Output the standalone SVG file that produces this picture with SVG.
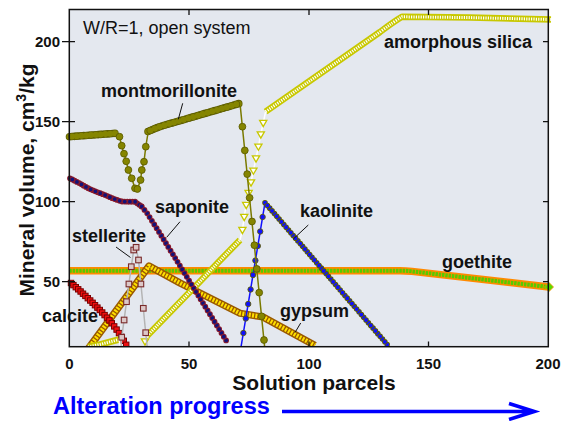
<svg xmlns="http://www.w3.org/2000/svg" width="564" height="421" viewBox="0 0 564 421">
<style>
text{font-family:"Liberation Sans",Arial,sans-serif;fill:#111}
.lbl{font-weight:bold;font-size:18px}
.tk{font-weight:bold;font-size:15px}
.ax{font-weight:bold;font-size:21px}
.ldr{stroke:#111;stroke-width:1;fill:none}
.tick{stroke:#111;stroke-width:1.3}
.dot{fill:none;stroke-linecap:round}
.sO{stroke:#8b1a2a;stroke-width:5.8}
.sF{stroke:#12127a;stroke-width:3.8}
.mO{stroke:#5e5e00;stroke-width:7.6}
.mF{stroke:#858500;stroke-width:6}
.kO{stroke:#5e5e00;stroke-width:5.6}
.kF{stroke:#1010ff;stroke-width:3.8}
.mC{fill:#858500;stroke:#5e5e00;stroke-width:0.9}
.kC{fill:#1010ff;stroke:#5e5e00;stroke-width:0.9}
.siO{fill:none;stroke:#c8c800;stroke-width:6.5;stroke-linejoin:round}
.siI{fill:none;stroke:#fff;stroke-width:3;stroke-dasharray:1.2 1.2;stroke-linejoin:round}
.gyO{fill:none;stroke:#9a5a00;stroke-width:7.2;stroke-linejoin:round}
.gyI{fill:none;stroke:#ffe000;stroke-width:4.4;stroke-dasharray:2 1.3;stroke-linejoin:round}
.tri{fill:#fff;stroke:#c8c800;stroke-width:1.3}
.st{fill:#dcc8c8;stroke:#7a2a2a;stroke-width:1.1}
</style>
<defs>
<clipPath id="plot"><rect x="62" y="5" width="494" height="341.7"/></clipPath>
<marker id="mSq" markerWidth="8" markerHeight="8" refX="4" refY="4" markerUnits="userSpaceOnUse">
<rect x="1.3" y="1.3" width="5.4" height="5.4" fill="#ee1010" stroke="#7a0000" stroke-width="1"/>
</marker>
<polygon id="tr" points="-3.6,-2.6 3.6,-2.6 0,3.6"/>
<rect id="sq" x="-2.8" y="-2.8" width="5.6" height="5.6"/>
<path id="sapA" d="M70,178.3 L80,183.5 L88.3,188.3 L97,192 L105,195 L113,198.5 L121.7,201.5 L128,201.7 L135,201.7 L141.7,206.5"/>
<path id="sapB" d="M141.7,206.5 L147,213 L153,222.5 L160,233.5 L228,343.5"/>
<path id="monA" d="M69.5,136.7 L117,133.2"/>
<path id="monB" d="M148,131.5 L160,126.5 L178,121.3 L240,103.3"/>
<path id="kaoA" d="M265,202.7 L388,345.5"/>
</defs>

<g id="frame-bg">
<rect x="69.3" y="9.5" width="479" height="337.2" fill="#e4e8ef"/>
</g>

<g clip-path="url(#plot)">
<g id="goethite">
<path d="M69.3,270.7 L400,270.7 Q406,270.7 412,271.4 L549,287" fill="none" stroke="#ff8a00" stroke-width="7.5"/>
<path d="M69.3,270.7 L400,270.7 Q406,270.7 412,271.4 L549,287" fill="none" stroke="#55cc00" stroke-width="4" stroke-dasharray="2.5 0.8"/>
<polygon points="549,282.5 553.5,287 549,291.5 544.5,287" fill="#55dd00" stroke="#ff8a00" stroke-width="0.8"/>
</g>

<g id="gypsum">
<path class="gyO" d="M88,349 L149,266 L180,283 L240,313.3 L263,317 L315,345.5"/>
<path class="gyI" d="M88,349 L149,266 L180,283 L240,313.3 L263,317 L315,345.5"/>
</g>

<g id="calcite">
<polyline fill="none" stroke="none" marker-start="url(#mSq)" marker-mid="url(#mSq)" marker-end="url(#mSq)" points="71,283 73.4,285.1 75.8,287.2 78.2,289.3 80.6,291.5 83,293.7 85.4,295.9 87.8,298.2 90.2,300.5 92.6,302.8 95,305.2 97.4,307.6 99.8,310 102.2,312.5 104.6,315.1 107,317.7 109.4,320.4 111.8,323.3 114.2,326.4 116.6,329.6 119,333.1 121.4,336.8 123.8,340.8 126.2,344.8"/>
</g>

<g id="amorphous-silica">
<path class="siO" d="M88,347 L100,344.5 L119,339.5"/>
<path class="siI" d="M88,347 L100,344.5 L119,339.5"/>
<path d="M119,339.5 L121,350 M145,341.5 L147,336" stroke="#fff" stroke-width="1.4" fill="none"/>
<path class="siO" d="M147,336 L180,302 L200,281.5 L220,260.5 L240,240"/>
<path class="siI" d="M147,336 L180,302 L200,281.5 L220,260.5 L240,240"/>
<polyline points="240,240 242.4,230 244.2,217 246.2,205 248.6,193 251,182.5 253.4,170.7 256,158.5 258.4,146.7 260.8,134.5 263.2,123 265.6,111.7" fill="none" stroke="#fff" stroke-width="1.5"/>
<g class="tri">
<use href="#tr" x="145" y="341.5"/>
<use href="#tr" x="242.4" y="230"/>
<use href="#tr" x="244.2" y="217"/>
<use href="#tr" x="246.2" y="205"/>
<use href="#tr" x="248.6" y="193"/>
<use href="#tr" x="251" y="182.5"/>
<use href="#tr" x="253.4" y="170.7"/>
<use href="#tr" x="256" y="158.5"/>
<use href="#tr" x="258.4" y="146.7"/>
<use href="#tr" x="260.8" y="134.5"/>
<use href="#tr" x="263.2" y="123"/>
</g>
<path class="siO" d="M265.6,111.7 L380,32 Q394,21.5 402,16.8 L470,17.6 L551,19.5"/>
<path class="siI" d="M265.6,111.7 L380,32 Q394,21.5 402,16.8 L470,17.6 L551,19.5"/>
</g>

<g id="saponite">
<use href="#sapA" class="dot sO" stroke-dasharray="0 5.2"/>
<use href="#sapA" class="dot sF" stroke-dasharray="0 5.2"/>
<use href="#sapA" class="dot sO" stroke-dasharray="0 5.2" stroke-dashoffset="2.6"/>
<use href="#sapA" class="dot sF" stroke-dasharray="0 5.2" stroke-dashoffset="2.6"/>
<use href="#sapB" class="dot sO" stroke-dasharray="0 8.8"/>
<use href="#sapB" class="dot sF" stroke-dasharray="0 8.8"/>
<use href="#sapB" class="dot sO" stroke-dasharray="0 8.8" stroke-dashoffset="4.4"/>
<use href="#sapB" class="dot sF" stroke-dasharray="0 8.8" stroke-dashoffset="4.4"/>
</g>

<g id="kaolinite">
<path d="M241,347 L265,202.7" stroke="#1010ff" stroke-width="1.5" fill="none"/>
<g class="kC">
<circle cx="243.4" cy="333" r="2.7"/>
<circle cx="245.8" cy="318.5" r="2.7"/>
<circle cx="248.2" cy="304" r="2.7"/>
<circle cx="250.6" cy="289.5" r="2.7"/>
<circle cx="253" cy="275" r="2.7"/>
<circle cx="255.4" cy="260.5" r="2.7"/>
<circle cx="257.8" cy="246" r="2.7"/>
<circle cx="260.2" cy="231.5" r="2.7"/>
<circle cx="262.6" cy="217" r="2.7"/>
</g>
<use href="#kaoA" class="dot kO" stroke-dasharray="0 7.2"/>
<use href="#kaoA" class="dot kF" stroke-dasharray="0 7.2"/>
<use href="#kaoA" class="dot kO" stroke-dasharray="0 7.2" stroke-dashoffset="3.6"/>
<use href="#kaoA" class="dot kF" stroke-dasharray="0 7.2" stroke-dashoffset="3.6"/>
</g>

<g id="montmorillonite">
<path d="M117,133.2 L119.5,136.7 L121.7,145.7 L124,153.7 L126.2,161.3 L128.4,170 L131.7,178.3 L135,188.3 L137.4,189 L140.6,180 L141.8,170 L144,161.7 L145.8,146.7 L148,133 M240,103.3 L264.6,346.7" stroke="#7a7a00" stroke-width="1.5" fill="none"/>
<use href="#monA" class="dot mO" stroke-dasharray="0 4.8"/>
<use href="#monA" class="dot mF" stroke-dasharray="0 4.8"/>
<use href="#monA" class="dot mO" stroke-dasharray="0 4.8" stroke-dashoffset="2.4"/>
<use href="#monA" class="dot mF" stroke-dasharray="0 4.8" stroke-dashoffset="2.4"/>
<g class="mC">
<circle cx="119.5" cy="136.7" r="3.4"/>
<circle cx="121.7" cy="145.7" r="3.4"/>
<circle cx="124" cy="153.7" r="3.4"/>
<circle cx="126.2" cy="161.3" r="3.4"/>
<circle cx="128.4" cy="170" r="3.4"/>
<circle cx="131.7" cy="178.3" r="3.4"/>
<circle cx="135" cy="188.3" r="3.4"/>
<circle cx="137.4" cy="189" r="3.4"/>
<circle cx="140.6" cy="180" r="3.4"/>
<circle cx="141.8" cy="170" r="3.4"/>
<circle cx="144" cy="161.7" r="3.4"/>
<circle cx="145.8" cy="146.7" r="3.4"/>
</g>
<use href="#monB" class="dot mO" stroke-dasharray="0 5"/>
<use href="#monB" class="dot mF" stroke-dasharray="0 5"/>
<use href="#monB" class="dot mO" stroke-dasharray="0 5" stroke-dashoffset="2.5"/>
<use href="#monB" class="dot mF" stroke-dasharray="0 5" stroke-dashoffset="2.5"/>
<g class="mC">
<circle cx="242.4" cy="126.7" r="3.4"/>
<circle cx="244.8" cy="150.4" r="3.4"/>
<circle cx="247.2" cy="174.1" r="3.4"/>
<circle cx="249.6" cy="197.8" r="3.4"/>
<circle cx="252" cy="221.5" r="3.4"/>
<circle cx="254.4" cy="245.2" r="3.4"/>
<circle cx="256.8" cy="268.9" r="3.4"/>
<circle cx="259.2" cy="292.6" r="3.4"/>
<circle cx="261.6" cy="316.3" r="3.4"/>
<circle cx="264" cy="340" r="3.4"/>
</g>
</g>

<g id="stellerite">
<polyline points="121,347 121.7,337.3 124.1,320 126.5,301.7 128.9,284 131.3,266.7 133.7,250 136.1,247.3 138.5,260 140.9,284 143.3,308.3 145.7,332.7 147.5,350" fill="none" stroke="#b4b4b4" stroke-width="1.5"/>
<g class="st">
<use href="#sq" x="121.7" y="337.3"/>
<use href="#sq" x="124.1" y="320"/>
<use href="#sq" x="126.5" y="301.7"/>
<use href="#sq" x="128.9" y="284"/>
<use href="#sq" x="131.3" y="266.7"/>
<use href="#sq" x="133.7" y="250"/>
<use href="#sq" x="136.1" y="247.3"/>
<use href="#sq" x="138.5" y="260"/>
<use href="#sq" x="140.9" y="284"/>
<use href="#sq" x="143.3" y="308.3"/>
<use href="#sq" x="145.7" y="332.7"/>
</g>
</g>
</g>

<g id="axes">
<rect x="69.3" y="9.5" width="479" height="337.2" fill="none" stroke="#111" stroke-width="1.5"/>
<path class="tick" d="M62,41.7 H75 M62,121.7 H75 M62,201.7 H75 M62,281.7 H75 M543,41.7 H548.3 M543,121.7 H548.3 M543,201.7 H548.3 M543,281.7 H548.3 M189,346.7 V341.5 M309,346.7 V341.5 M428.5,346.7 V341.5 M189,9.5 V15 M309,9.5 V15 M428.5,9.5 V15"/>
<g class="tk" text-anchor="end">
<text x="60" y="47">200</text>
<text x="60" y="127">150</text>
<text x="60" y="207">100</text>
<text x="60" y="287">50</text>
</g>
<g class="tk" text-anchor="middle">
<text x="69.3" y="369">0</text>
<text x="189" y="369">50</text>
<text x="309" y="369">100</text>
<text x="428.5" y="369">150</text>
<text x="548" y="369">200</text>
</g>
<text class="ax" x="314" y="389.5" text-anchor="middle">Solution parcels</text>
<text class="ax" transform="translate(34,180) rotate(-90)" text-anchor="middle">Mineral volume, cm<tspan font-size="14" dy="-8">3</tspan><tspan dy="8">/kg</tspan></text>
</g>

<g id="labels">
<text x="83" y="34" font-size="18" fill="#222">W/R=1, open system</text>
<text class="lbl" x="101" y="97">montmorillonite</text>
<text class="lbl" x="384" y="48">amorphous silica</text>
<text class="lbl" x="155" y="213" font-size="17.5">saponite</text>
<text class="lbl" x="300" y="217">kaolinite</text>
<text class="lbl" x="72" y="242" font-size="17">stellerite</text>
<text class="lbl" x="442" y="267.5">goethite</text>
<text class="lbl" x="42" y="322" font-size="16">calcite</text>
<text class="lbl" x="280" y="317" font-size="17">gypsum</text>
</g>

<g id="connectors">
<path class="ldr" d="M178.3,119.3 L182.7,103.3"/>
<path class="ldr" d="M166.7,237.3 L180,221.7"/>
<path class="ldr" d="M293.3,239 L308.3,225"/>
<path class="ldr" d="M116,247 L130.5,257.5"/>
<path class="ldr" d="M295,332.5 L300.7,323"/>
</g>

<g id="progress-arrow">
<text x="53" y="414" font-weight="bold" font-size="23.5" style="fill:#0000ff">Alteration progress</text>
<path d="M282,411.5 H534 M509,403.5 L534.5,411.5 L509,419.5" fill="none" stroke="#0000ff" stroke-width="3.5" stroke-linejoin="miter"/>
</g>
</svg>
